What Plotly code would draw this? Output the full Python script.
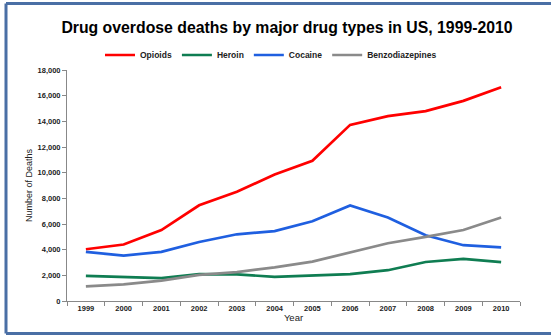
import plotly.graph_objects as go

years = ["1999", "2000", "2001", "2002", "2003", "2004", "2005", "2006", "2007", "2008", "2009", "2010"]
opioids = [4030, 4400, 5528, 7456, 8517, 9857, 10928, 13723, 14408, 14800, 15597, 16651]
heroin = [1960, 1842, 1779, 2089, 2080, 1878, 2009, 2088, 2399, 3041, 3278, 3036]
cocaine = [3822, 3544, 3833, 4599, 5199, 5443, 6208, 7448, 6512, 5129, 4350, 4183]
benzodiazepines = [1135, 1298, 1594, 2037, 2248, 2625, 3071, 3810, 4500, 5000, 5530, 6500]

series = [
    ("Opioids", opioids, "#ff0000"),
    ("Heroin", heroin, "#0f7d52"),
    ("Cocaine", cocaine, "#1f5fe0"),
    ("Benzodiazepines", benzodiazepines, "#8a8a8a"),
]

FONT = "Liberation Sans, Arial, sans-serif"

fig = go.Figure()
for name, vals, color in series:
    fig.add_trace(go.Scatter(x=years, y=vals, name=name, mode="lines",
                             line=dict(color=color, width=2.7)))

W, H = 551, 336
L, R, T, B = 67, 31, 70, 35
pw, ph = W - L - R, H - T - B

def px(x):
    return (x - L) / pw

def py(y):
    return (H - B - y) / ph

fig.update_layout(
    width=W, height=H,
    margin=dict(l=L, r=R, t=T, b=B),
    paper_bgcolor="white", plot_bgcolor="white",
    font=dict(family=FONT, color="#222222"),
    title=dict(text="<b>Drug overdose deaths by major drug types in US, 1999-2010</b>",
               xref="container", yref="container",
               x=287 / W, xanchor="center", y=1 - 27 / H, yanchor="middle",
               font=dict(size=15.8, color="#000000", family=FONT)),
    legend=dict(orientation="h", x=px(271), xanchor="center", y=py(55), yanchor="middle",
                font=dict(size=8.5, color="#222222", family=FONT, weight="bold"),
                itemwidth=30, tracegroupgap=0, bgcolor="rgba(0,0,0,0)"),
    showlegend=True,
    xaxis=dict(type="category", range=[-0.5, 11.5], showgrid=False,
               showline=True, linecolor="#888888", linewidth=1,
               ticks="outside", tickson="boundaries", ticklen=4, tickcolor="#888888",
               tickfont=dict(size=7.5, color="#222222", family=FONT, weight="bold"),
               title=dict(text="Year", font=dict(size=9.5, color="#222222", family=FONT), standoff=2),
               zeroline=False, fixedrange=True),
    yaxis=dict(range=[0, 18000], dtick=2000, tickformat=",", showgrid=False,
               showline=True, linecolor="#888888", linewidth=1,
               ticks="outside", ticklen=4, tickcolor="#888888",
               tickfont=dict(size=7.5, color="#222222", family=FONT, weight="bold"),
               title=dict(text="Number of Deaths", font=dict(size=9, color="#222222", family=FONT), standoff=3),
               zeroline=False, fixedrange=True),
)

border = dict(color="#4a6fa5", width=3)
# top, left, bottom frame lines (the frame is open on the right)
fig.add_shape(type="line", xref="paper", yref="paper",
              x0=px(6), x1=px(551), y0=py(3.5), y1=py(3.5), line=border, layer="below")
fig.add_shape(type="line", xref="paper", yref="paper",
              x0=px(6), x1=px(6), y0=py(3.5), y1=py(333.5), line=border, layer="below")
fig.add_shape(type="line", xref="paper", yref="paper",
              x0=px(6), x1=px(551), y0=py(333.5), y1=py(333.5), line=border, layer="below")

fig.write_html("out.html", config={"displayModeBar": False})
